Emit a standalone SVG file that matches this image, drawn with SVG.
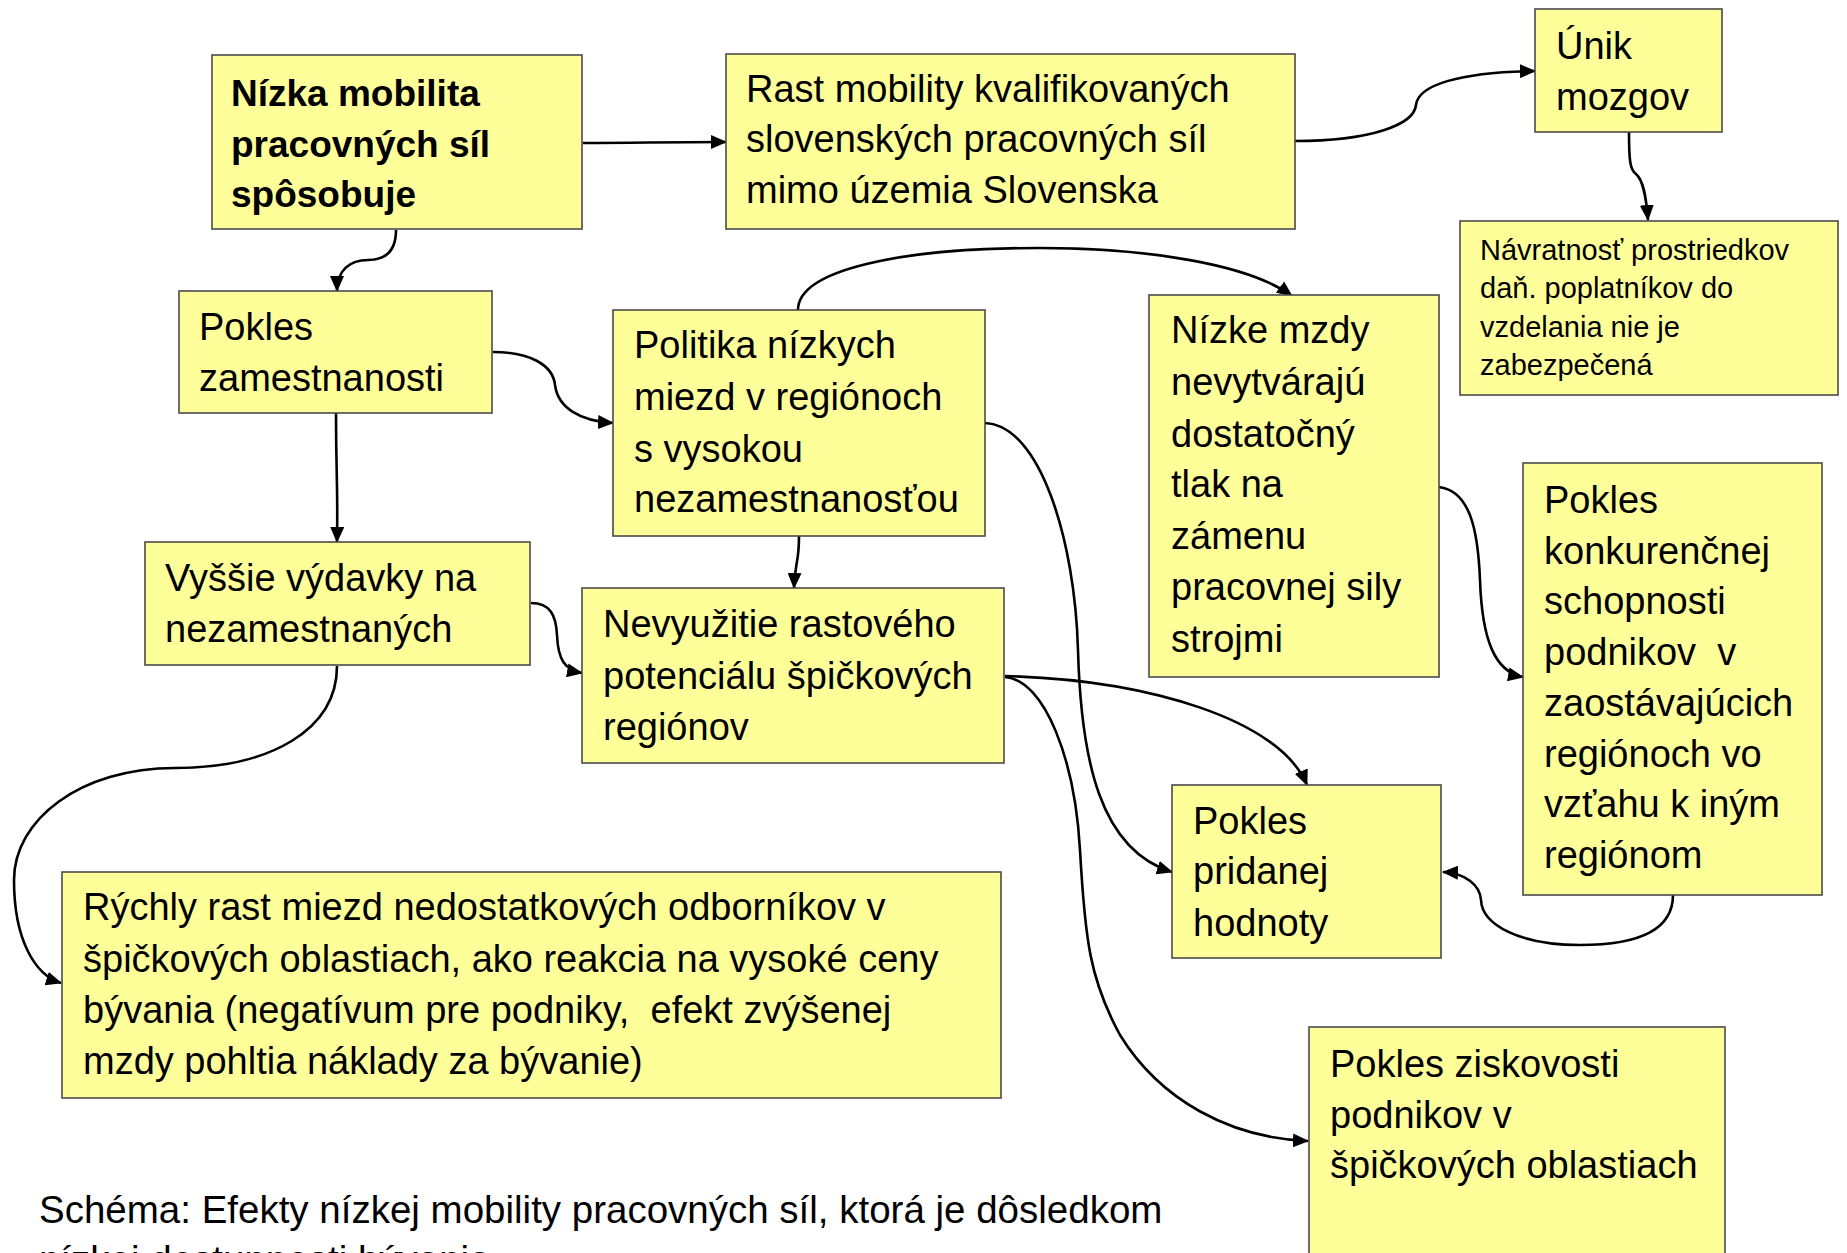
<svg xmlns="http://www.w3.org/2000/svg" width="1847" height="1253" viewBox="0 0 1847 1253">
<style>
.box{fill:#FFFF99;stroke:#4a4a4a;stroke-width:1.6}
.t{font-family:"Liberation Sans",Arial,sans-serif;font-size:38px;fill:#000}
.b{font-family:"Liberation Sans",Arial,sans-serif;font-size:37px;font-weight:bold;fill:#000}
.s{font-family:"Liberation Sans",Arial,sans-serif;font-size:29px;fill:#000}
.cap{font-family:"Liberation Sans",Arial,sans-serif;font-size:38.5px;fill:#000}
.c{fill:none;stroke:#000;stroke-width:2.6;marker-end:url(#arr)}
</style>
<defs>
<marker id="arr" viewBox="0 0 16 14" refX="15" refY="7" markerWidth="16" markerHeight="14" markerUnits="userSpaceOnUse" orient="auto">
<path d="M0,0 L16,7 L0,14 z" fill="#000"/>
</marker>
</defs>
<rect width="1847" height="1253" fill="#fff"/>

<g id="connectors">
<path class="c" d="M583,143 C640,143 660,142 726,142"/>
<path class="c" d="M1295,141 C1370,141 1414,125 1416,105 C1418,85 1460,72 1535,71"/>
<path class="c" d="M1629,132 C1629,160 1630,170 1636,174 C1643,180 1646,195 1648,220"/>
<path class="c" d="M396,230 C396,252 385,260 368,260 C350,260 337,270 337,291"/>
<path class="c" d="M493,352 C530,352 553,365 555,385 C558,408 580,421 613,423"/>
<path class="c" d="M336,413 C336,480 338,480 337,542"/>
<path class="c" d="M798,310 C798,270 900,248 1040,248 C1150,248 1250,265 1292,296"/>
<path class="c" d="M799,536 C799,565 795,560 794,588"/>
<path class="c" d="M985,423 C1040,425 1075,540 1078,650 C1081,760 1100,850 1172,872"/>
<path class="c" d="M531,603 C550,603 556,615 557,635 C558,660 565,670 582,673"/>
<path class="c" d="M337,666 C337,730 270,768 175,768 C80,768 14,820 14,880 C14,940 35,975 61,983"/>
<path class="c" d="M1005,676 C1150,680 1280,720 1307,785"/>
<path class="c" d="M1005,677 C1045,680 1075,760 1080,850 C1085,940 1090,980 1120,1035 C1160,1100 1230,1138 1308,1141"/>
<path class="c" d="M1438,487 C1470,490 1478,530 1480,580 C1482,640 1495,672 1523,677"/>
<path class="c" d="M1673,895 C1673,930 1640,945 1580,945 C1520,945 1482,925 1481,900 C1480,885 1465,873 1443,872"/>
</g>

<g id="n1">
<rect class="box" x="212" y="55" width="370" height="174"/>
<text class="b" x="231" y="106">Nízka mobilita</text>
<text class="b" x="231" y="157">pracovných síl</text>
<text class="b" x="231" y="207">spôsobuje</text>
</g>

<g id="n2">
<rect class="box" x="726" y="54" width="569" height="175"/>
<text class="t" x="746" y="102">Rast mobility kvalifikovaných</text>
<text class="t" x="746" y="152">slovenských pracovných síl</text>
<text class="t" x="746" y="203">mimo územia Slovenska</text>
</g>

<g id="n3">
<rect class="box" x="1535" y="9" width="187" height="123"/>
<text class="t" x="1556" y="59">Únik</text>
<text class="t" x="1556" y="110">mozgov</text>
</g>

<g id="n4">
<rect class="box" x="1460" y="221" width="378" height="174"/>
<text class="s" x="1480" y="260">Návratnosť prostriedkov</text>
<text class="s" x="1480" y="298">daň. poplatníkov do</text>
<text class="s" x="1480" y="337">vzdelania nie je</text>
<text class="s" x="1480" y="375">zabezpečená</text>
</g>

<g id="n5">
<rect class="box" x="179" y="291" width="313" height="122"/>
<text class="t" x="199" y="340">Pokles</text>
<text class="t" x="199" y="391">zamestnanosti</text>
</g>

<g id="n6">
<rect class="box" x="613" y="310" width="372" height="226"/>
<text class="t" x="634" y="358">Politika nízkych</text>
<text class="t" x="634" y="410">miezd v regiónoch</text>
<text class="t" x="634" y="462">s vysokou</text>
<text class="t" x="634" y="512">nezamestnanosťou</text>
</g>

<g id="n7">
<rect class="box" x="1149" y="295" width="290" height="382"/>
<text class="t" x="1171" y="343">Nízke mzdy</text>
<text class="t" x="1171" y="395">nevytvárajú</text>
<text class="t" x="1171" y="447">dostatočný</text>
<text class="t" x="1171" y="497">tlak na</text>
<text class="t" x="1171" y="549">zámenu</text>
<text class="t" x="1171" y="600">pracovnej sily</text>
<text class="t" x="1171" y="652">strojmi</text>
</g>

<g id="n8">
<rect class="box" x="1523" y="463" width="299" height="432"/>
<text class="t" x="1544" y="513">Pokles</text>
<text class="t" x="1544" y="564">konkurenčnej</text>
<text class="t" x="1544" y="614">schopnosti</text>
<text class="t" x="1544" y="665">podnikov&#160; v</text>
<text class="t" x="1544" y="716">zaostávajúcich</text>
<text class="t" x="1544" y="767">regiónoch vo</text>
<text class="t" x="1544" y="817">vzťahu k iným</text>
<text class="t" x="1544" y="868">regiónom</text>
</g>

<g id="n9">
<rect class="box" x="145" y="542" width="385" height="123"/>
<text class="t" x="165" y="591">Vyššie výdavky na</text>
<text class="t" x="165" y="642">nezamestnaných</text>
</g>

<g id="n10">
<rect class="box" x="582" y="588" width="422" height="175"/>
<text class="t" x="603" y="637">Nevyužitie rastového</text>
<text class="t" x="603" y="689">potenciálu špičkových</text>
<text class="t" x="603" y="740">regiónov</text>
</g>

<g id="n11">
<rect class="box" x="1172" y="785" width="269" height="173"/>
<text class="t" x="1193" y="834">Pokles</text>
<text class="t" x="1193" y="884">pridanej</text>
<text class="t" x="1193" y="936">hodnoty</text>
</g>

<g id="n12">
<rect class="box" x="62" y="872" width="939" height="226"/>
<text class="t" x="83" y="920">Rýchly rast miezd nedostatkových odborníkov v</text>
<text class="t" x="83" y="972">špičkových oblastiach, ako reakcia na vysoké ceny</text>
<text class="t" x="83" y="1023">bývania (negatívum pre podniky,&#160; efekt zvýšenej</text>
<text class="t" x="83" y="1074">mzdy pohltia náklady za bývanie)</text>
</g>

<g id="n13">
<rect class="box" x="1309" y="1027" width="416" height="240"/>
<text class="t" x="1330" y="1077">Pokles ziskovosti</text>
<text class="t" x="1330" y="1128">podnikov v</text>
<text class="t" x="1330" y="1178">špičkových oblastiach</text>
</g>

<g id="caption">
<text class="cap" x="39" y="1223">Schéma: Efekty nízkej mobility pracovných síl, ktorá je dôsledkom</text>
<text class="cap" x="39" y="1273">nízkej dostupnosti bývania</text>
</g>
</svg>
